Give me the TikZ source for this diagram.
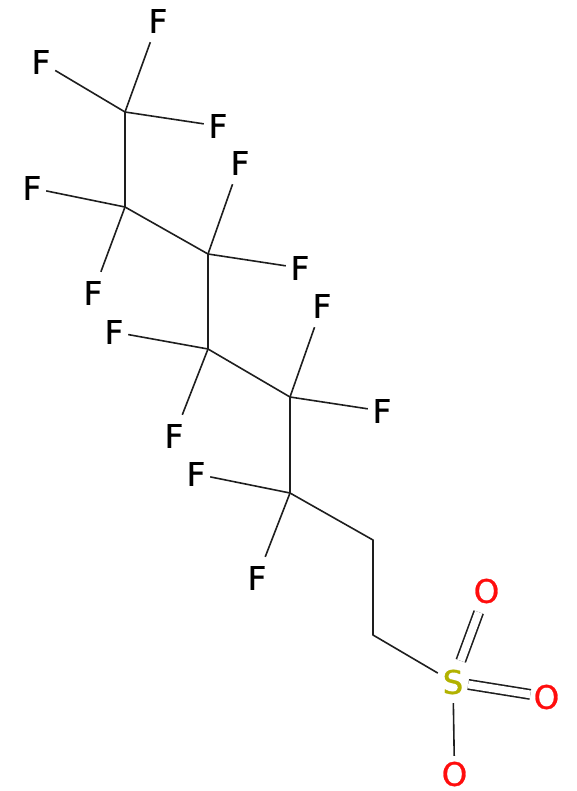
\documentclass[tikz,border=0pt]{standalone}
\usepackage{fontspec}
\setmainfont{DejaVu Sans}
\newfontfamily\atomfont[FakeBold=0.8]{DejaVu Sans}
\definecolor{sulfur}{RGB}{178,178,0}
\definecolor{oxygen}{RGB}{255,13,13}
\definecolor{bondc}{RGB}{30,30,30}
\tikzset{
  atom/.style={rectangle,inner sep=0pt,minimum width=28pt,minimum height=42pt,font=\atomfont\fontsize{32.5}{32.5}\selectfont},
  fluor/.style={atom,text=black},
  oxy/.style={atom,text=oxygen,minimum width=32pt},
  sulf/.style={atom,text=sulfur,minimum width=30pt},
  bond/.style={draw=bondc,line width=1.6pt,line cap=butt},
  dbond/.style={bond,double=white,double distance=7.8pt}
}
\begin{document}
\begin{tikzpicture}[x=1pt,y=-1pt]
\useasboundingbox (0,0) rectangle (577,791);
\coordinate (c1) at (125,112);
\coordinate (c2) at (125,207);
\coordinate (c3) at (208,254);
\coordinate (c4) at (208,349);
\coordinate (c5) at (290,397);
\coordinate (c6) at (290,493);
\coordinate (c7) at (373,540);
\coordinate (c8) at (373,635);
\node[fluor] (f1) at (158,21) {F};
\node[fluor] (f2) at (41,62) {F};
\node[fluor] (f3) at (218,126) {F};
\node[fluor] (f4) at (32,188) {F};
\node[fluor] (f5) at (93,293) {F};
\node[fluor] (f6) at (240,163) {F};
\node[fluor] (f7) at (300,268) {F};
\node[fluor] (f8) at (114,332) {F};
\node[fluor] (f9) at (174,436) {F};
\node[fluor] (f10) at (322,306) {F};
\node[fluor] (f11) at (382,411) {F};
\node[fluor] (f12) at (196,474) {F};
\node[fluor] (f13) at (257,578) {F};
\node[sulf] (s) at (453,682) {S};
\node[oxy] (o1) at (486.5,591) {O};
\node[oxy] (o2) at (546.5,697) {O};
\node[oxy,minimum height=30pt] (o3) at (454.5,774) {O};
\draw[bond] (c1) -- (f1);
\draw[bond] (c1) -- (f2);
\draw[bond] (c1) -- (f3);
\draw[bond] (c2) -- (f4);
\draw[bond] (c2) -- (f5);
\draw[bond] (c3) -- (f6);
\draw[bond] (c3) -- (f7);
\draw[bond] (c4) -- (f8);
\draw[bond] (c4) -- (f9);
\draw[bond] (c5) -- (f10);
\draw[bond] (c5) -- (f11);
\draw[bond] (c6) -- (f12);
\draw[bond] (c6) -- (f13);
\draw[bond,line join=round] (c1) -- (c2) -- (c3) -- (c4) -- (c5) -- (c6) -- (c7) -- (c8) -- (s);
\draw[dbond] (s) -- (o1);
\draw[dbond] (s) -- (o2);
\draw[bond,shorten >=3pt] (s) -- (o3);
\end{tikzpicture}
\end{document}
